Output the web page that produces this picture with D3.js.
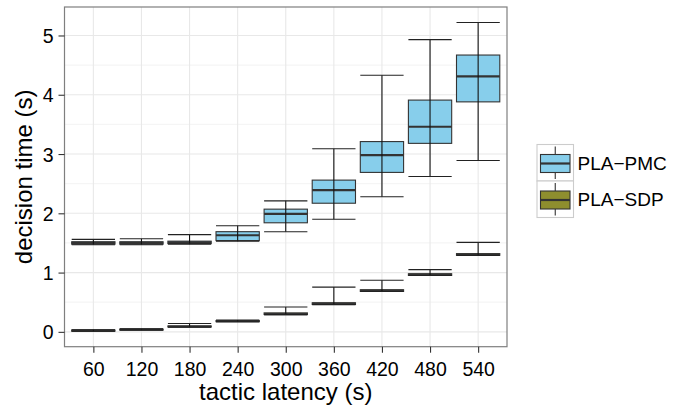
<!DOCTYPE html>
<html lang="en">
<head>
<meta charset="UTF-8">
<title>decision time vs tactic latency</title>
<script src="https://d3js.org/d3.v7.min.js"></script>
<style>
  body { margin: 0; background: #fff; }
  text { font-family: "Liberation Sans", Arial, sans-serif; fill: #000; }
</style>
</head>
<body>
<svg id="chart" width="694" height="409"></svg>
<script>
    // tactic latency categories
    const latencies = [60, 120, 180, 240, 300, 360, 420, 480, 540];

    // PLA-PMC: [ymin, lower, middle, upper, ymax]
    const pmcStats = [
        [1.47, 1.48, 1.50, 1.52, 1.56],
        [1.47, 1.48, 1.50, 1.52, 1.57],
        [1.48, 1.49, 1.51, 1.53, 1.64],
        [1.53, 1.54, 1.63, 1.69, 1.79],
        [1.69, 1.84, 1.99, 2.07, 2.21],
        [1.90, 2.17, 2.39, 2.56, 3.09],
        [2.28, 2.69, 2.98, 3.21, 4.33],
        [2.62, 3.18, 3.46, 3.91, 4.93],
        [2.89, 3.88, 4.31, 4.67, 5.22]
    ];

    // PLA-SDP: [ymin, lower, middle, upper, ymax]
    const sdpStats = [
        [0.01, 0.012, 0.02, 0.03, 0.035],
        [0.03, 0.03, 0.037, 0.045, 0.05],
        [0.08, 0.083, 0.09, 0.10, 0.14],
        [0.17, 0.172, 0.18, 0.19, 0.20],
        [0.29, 0.293, 0.30, 0.32, 0.42],
        [0.46, 0.462, 0.475, 0.49, 0.755],
        [0.68, 0.682, 0.695, 0.71, 0.87],
        [0.95, 0.952, 0.965, 0.98, 1.05],
        [1.29, 1.292, 1.30, 1.32, 1.51]
    ];

    const yTicks = [0, 1, 2, 3, 4, 5];
    const seriesNames = ["PLA\u2212PMC", "PLA\u2212SDP"];
    const seriesColors = ["#87CEEB", "#8E8E2E"];

    const svg = d3.select("#chart");
    const panel = { left: 64.5, right: 507, top: 7, bottom: 346.7 };

    const allVals = pmcStats.concat(sdpStats).flat();
    const lo = d3.min(allVals), hi = d3.max(allVals);
    const pad = (hi - lo) * 0.05;

    const x = d3.scalePoint()
        .domain(latencies)
        .range([panel.left, panel.right])
        .padding(0.6);

    const y = d3.scaleLinear()
        .domain([lo - pad, hi + pad])
        .range([panel.bottom, panel.top]);

    const boxW = x.step() * 0.9;

    // panel background + grid
    svg.append("rect")
        .attr("x", panel.left).attr("y", panel.top)
        .attr("width", panel.right - panel.left)
        .attr("height", panel.bottom - panel.top)
        .attr("fill", "#fff");

    const minorTicks = d3.range(0.5, 5.5, 1);
    svg.append("g").selectAll("line")
        .data(minorTicks)
        .enter().append("line")
        .attr("x1", panel.left).attr("x2", panel.right)
        .attr("y1", d => y(d)).attr("y2", d => y(d))
        .attr("stroke", "#F5F5F5").attr("stroke-width", 1.2);

    svg.append("g").selectAll("line")
        .data(yTicks)
        .enter().append("line")
        .attr("x1", panel.left).attr("x2", panel.right)
        .attr("y1", d => y(d)).attr("y2", d => y(d))
        .attr("stroke", "#E8E8E8").attr("stroke-width", 1.1);

    svg.append("g").selectAll("line")
        .data(latencies)
        .enter().append("line")
        .attr("x1", d => x(d)).attr("x2", d => x(d))
        .attr("y1", panel.top).attr("y2", panel.bottom)
        .attr("stroke", "#E8E8E8").attr("stroke-width", 1.1);

    // boxes
    function drawSeries(stats, color) {
        const g = svg.append("g");
        const data = stats.map((s, i) => ({ cat: latencies[i], s: s }));

        g.selectAll("rect")
            .data(data)
            .enter().append("rect")
            .attr("x", d => x(d.cat) - boxW / 2)
            .attr("y", d => y(d.s[3]))
            .attr("width", boxW)
            .attr("height", d => y(d.s[1]) - y(d.s[3]))
            .attr("fill", color)
            .attr("stroke", "#333")
            .attr("stroke-width", 1.1);

        g.selectAll("line.med")
            .data(data)
            .enter().append("line")
            .attr("class", "med")
            .attr("x1", d => x(d.cat) - boxW / 2)
            .attr("x2", d => x(d.cat) + boxW / 2)
            .attr("y1", d => y(d.s[2])).attr("y2", d => y(d.s[2]))
            .attr("stroke", "#333").attr("stroke-width", 2.2);

        // error bars on top
        g.selectAll("line.vert")
            .data(data)
            .enter().append("line")
            .attr("class", "vert")
            .attr("x1", d => x(d.cat)).attr("x2", d => x(d.cat))
            .attr("y1", d => y(d.s[0])).attr("y2", d => y(d.s[4]))
            .attr("stroke", "#111").attr("stroke-width", 1.1);

        [0, 4].forEach(k => {
            g.selectAll("line.cap" + k)
                .data(data)
                .enter().append("line")
                .attr("class", "cap" + k)
                .attr("x1", d => x(d.cat) - boxW / 2)
                .attr("x2", d => x(d.cat) + boxW / 2)
                .attr("y1", d => y(d.s[k])).attr("y2", d => y(d.s[k]))
                .attr("stroke", "#222").attr("stroke-width", 1.1);
        });
    }

    drawSeries(pmcStats, seriesColors[0]);
    drawSeries(sdpStats, seriesColors[1]);

    // panel border
    svg.append("rect")
        .attr("x", panel.left).attr("y", panel.top)
        .attr("width", panel.right - panel.left)
        .attr("height", panel.bottom - panel.top)
        .attr("fill", "none")
        .attr("stroke", "#7F7F7F").attr("stroke-width", 1.2);

    // axes
    const yAxis = svg.append("g")
        .attr("transform", `translate(${panel.left},0)`)
        .call(d3.axisLeft(y).tickValues(yTicks).tickFormat(d3.format("d")).tickSize(6).tickPadding(5));
    const xAxis = svg.append("g")
        .attr("transform", `translate(0,${panel.bottom})`)
        .call(d3.axisBottom(x).tickSize(6).tickPadding(5));

    [yAxis, xAxis].forEach(ax => {
        ax.select(".domain").remove();
        ax.selectAll(".tick line").attr("stroke", "#333").attr("stroke-width", 1.1);
        ax.selectAll(".tick text")
            .style("font-family", "'Liberation Sans', Arial, sans-serif")
            .style("font-size", "19.5px")
            .attr("fill", "#000");
    });
    yAxis.selectAll(".tick text").attr("dy", "0.36em");
    xAxis.selectAll(".tick text").attr("dy", "0.95em");

    svg.append("text")
        .attr("x", (panel.left + panel.right) / 2)
        .attr("y", 400)
        .attr("text-anchor", "middle")
        .style("font-size", "24px")
        .text("tactic latency (s)");

    svg.append("text")
        .attr("text-anchor", "middle")
        .attr("transform", `translate(32,${(panel.top + panel.bottom) / 2})rotate(-90)`)
        .style("font-size", "24px")
        .text("decision time (s)");

    // legend
    const keySize = 36.5;
    const legend = svg.append("g").attr("transform", "translate(537,144.5)");
    const keys = legend.selectAll("g")
        .data(seriesNames)
        .enter().append("g")
        .attr("transform", (d, i) => `translate(0,${i * keySize})`);

    keys.append("rect")
        .attr("width", keySize).attr("height", keySize)
        .attr("fill", "#fff")
        .attr("stroke", "#CCCCCC").attr("stroke-width", 1.1);
    keys.append("line")
        .attr("x1", keySize / 2).attr("x2", keySize / 2)
        .attr("y1", 2).attr("y2", keySize - 2)
        .attr("stroke", "#333").attr("stroke-width", 1.1);
    keys.append("rect")
        .attr("x", 3.5).attr("y", 10)
        .attr("width", keySize - 7).attr("height", 18)
        .attr("fill", (d, i) => seriesColors[i])
        .attr("stroke", "#333").attr("stroke-width", 1.1);
    keys.append("line")
        .attr("x1", 3.5).attr("x2", keySize - 3.5)
        .attr("y1", 19).attr("y2", 19)
        .attr("stroke", "#333").attr("stroke-width", 2.2);
    keys.append("text")
        .attr("x", keySize + 4)
        .attr("y", keySize / 2)
        .attr("dy", "0.36em")
        .style("font-size", "19px")
        .text(d => d);
</script>
</body>
</html>
